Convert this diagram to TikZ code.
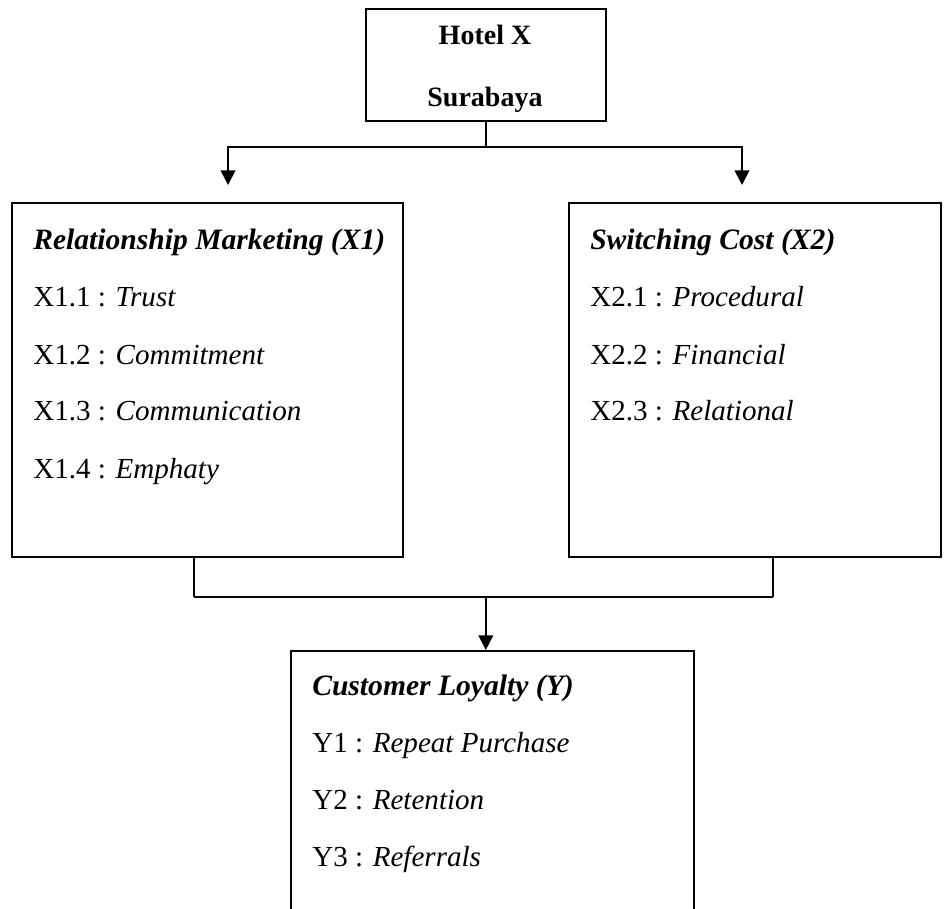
\documentclass[tikz,border=0pt]{standalone}
\usepackage{fontspec}
\setmainfont{Liberation Serif}
\usetikzlibrary{arrows.meta, positioning, calc}

\tikzset{
    box/.style={draw, line width=1.5pt, anchor=north west, inner sep=0pt},
    head/.style={anchor=base, inner sep=0pt, font=\fontsize{21}{25}\selectfont\bfseries},
    title/.style={anchor=base west, inner sep=0pt, font=\fontsize{22.2}{26}\selectfont\bfseries\itshape},
    item/.style={anchor=base west, inner sep=0pt, font=\fontsize{21.8}{26}\selectfont},
    conn/.style={line width=1.3pt},
    flow/.style={line width=1.3pt, -{Triangle[width=11pt, length=11pt]}}
}

\begin{document}
\begin{tikzpicture}[x=0.75pt, y=-0.75pt]
        \useasboundingbox (0,0) rectangle (950,909);
        \clip (0,0) rectangle (950,909);

        % Draw the boxes
        \node[box, minimum width=240*0.75pt, minimum height=112*0.75pt] (hotel) at (365,8) {};
        \node[box, minimum width=391*0.75pt, minimum height=354*0.75pt] (rm) at (11,202) {};
        \node[box, minimum width=372*0.75pt, minimum height=354*0.75pt] (sc) at (568,202) {};
        \node[box, minimum width=403*0.75pt, minimum height=320*0.75pt] (cl) at (290,650) {};

        % Hotel name
        \node[head] (hotelname) at (485,45) {Hotel X};
        \node[head] (hotelcity) at (485,107) {Surabaya};

        % Box titles
        \node[title] (rmtitle) at (33,250) {Relationship Marketing (X1)};
        \node[title] (sctitle) at (590,250) {Switching Cost (X2)};
        \node[title] (cltitle) at (312,695) {Customer Loyalty (Y)};

        % Indicators
        \foreach \i/\t in {1/Trust, 2/Commitment, 3/Communication, 4/Emphaty} {
            \node[item] (rm\i) at (33,{250+\i*57}) {X1.\i{} : \textit{\t}};
        }
        \foreach \i/\t in {1/Procedural, 2/Financial, 3/Relational} {
            \node[item] (sc\i) at (590,{250+\i*57}) {X2.\i{} : \textit{\t}};
        }
        \foreach \i/\t in {1/Repeat Purchase, 2/Retention, 3/Referrals} {
            \node[item] (cl\i) at (312,{695+\i*57}) {Y\i{} : \textit{\t}};
        }

        % Connect hotel to the two variables
        \draw[conn] (hotel.south) -- ++(0,25) coordinate (split);
        \draw[flow, shorten >=12.75pt] (split) -| ([xshift=15.4pt]rm.north);
        \draw[flow, shorten >=12.75pt] (split) -| ([xshift=-9.75pt]sc.north);

        % Join the two variables into customer loyalty
        \draw[conn] ([xshift=-10.1pt]rm.south) -- ++(0,39) coordinate (joinl);
        \draw[conn] ([xshift=13.5pt]sc.south) -- ++(0,39) coordinate (joinr);
        \draw[conn] (joinl) -- (joinr);
        \draw[flow] ([xshift=-5pt]cl.north |- joinl) -- ([xshift=-5pt]cl.north);
    \end{tikzpicture}
\end{document}
